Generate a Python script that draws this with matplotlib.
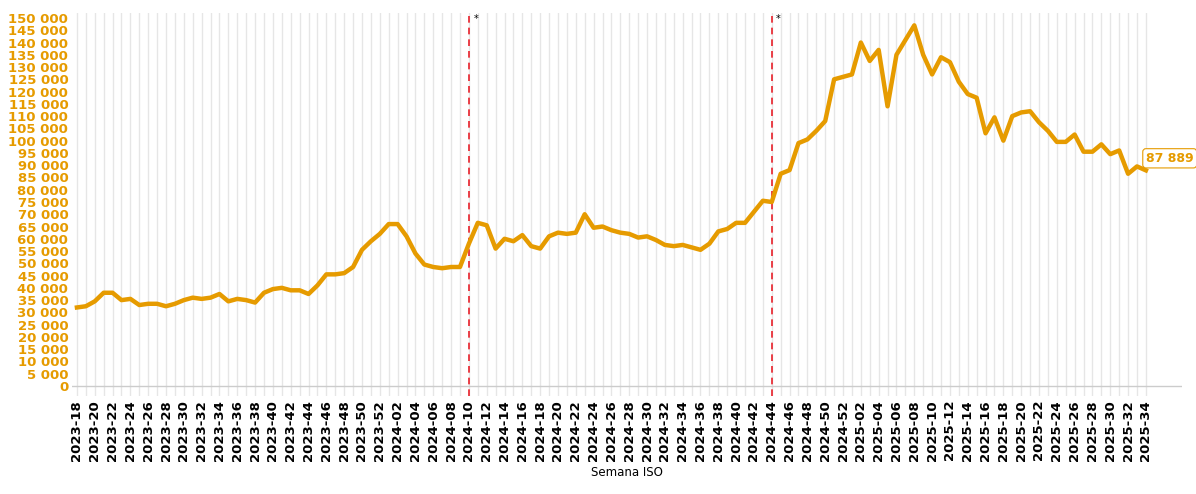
import matplotlib
matplotlib.use("Agg")
import matplotlib.pyplot as plt

weeks = [f"2023-{w:02d}" for w in range(18, 53)] + [f"2024-{w:02d}" for w in range(1, 53)] + [f"2025-{w:02d}" for w in range(1, 35)]
v2023 = [32, 32.5, 34.5, 38, 38, 35, 35.5, 33, 33.5, 33.5, 32.5, 33.5, 35, 36, 35.5, 36, 37.5, 34.5, 35.5, 35,
         34, 38, 39.5, 40, 39, 39, 37.5, 41, 45.5, 45.5, 46, 48.5, 55.5, 59, 62]
v2024 = [66, 66, 61, 54, 49.5, 48.5, 48, 48.5, 48.5, 58, 66.5, 65.5, 56, 60, 59, 61.5, 57, 56, 61, 62.5,
         62, 62.5, 70, 64.5, 65, 63.5, 62.5, 62, 60.5, 61, 59.5, 57.5, 57, 57.5, 56.5, 55.5, 58, 63, 64, 66.5,
         66.5, 71, 75.5, 75, 86.5, 88, 99, 100.5, 104, 108, 125, 126]
v2025 = [127, 140, 132.5, 137, 114, 135, 141, 147, 135, 127, 134, 132, 124, 119, 117.5, 103, 109.5, 100, 110, 111.5,
         112, 107.5, 104, 99.5, 99.5, 102.5, 95.5, 95.5, 98.5, 94.5, 96, 86.5, 89.5, 87.889]
values = [v * 1000 for v in v2023 + v2024 + v2025]
markers = ["2024-10", "2024-44"]

orange = "#E69B00"
fig = plt.figure(figsize=(11.96, 4.94), dpi=100)
ax = fig.add_axes([0.0606, 0.1988, 0.9273, 0.7747])
x = list(range(len(weeks)))
for xi in x:
    ax.axvline(xi, color="#e6e6e6", lw=1, zorder=0)
ax.axhline(0, color="#cccccc", lw=1, zorder=1)
ax.plot(x, values, color=orange, lw=3.2, solid_joinstyle="round", zorder=3)
for m in markers:
    i = weeks.index(m)
    ax.axvline(i, color="#e8202a", lw=1.2, ls=(0, (4, 3)), zorder=2)
    ax.text(i + 0.5, 151500, "*", fontsize=7, va="top", ha="left")
ax.set_xlim(-0.5, 124)
ax.set_ylim(-4000, 152000)
ax.set_yticks(range(0, 150001, 5000))
ax.set_yticklabels([f"{t:,}".replace(",", " ") for t in range(0, 150001, 5000)],
                   color=orange, fontweight="bold", fontsize=9.5)
ax.set_xticks(x[::2])
ax.set_xticklabels(weeks[::2], rotation=90, fontweight="bold", fontsize=9.5)
ax.tick_params(length=0, pad=3)
for s in ax.spines.values():
    s.set_visible(False)
ax.set_xlabel("Semana ISO", fontsize=8.5)
ax.annotate(f"{values[-1]:,.0f}".replace(",", " "), (x[-1], values[-1]), xytext=(0, 4), textcoords="offset points",
            color=orange, fontweight="bold", fontsize=9, va="bottom", ha="left", zorder=5,
            bbox=dict(boxstyle="round,pad=0.25", fc="white", ec=orange, lw=0.8))
fig.savefig("out.png")
